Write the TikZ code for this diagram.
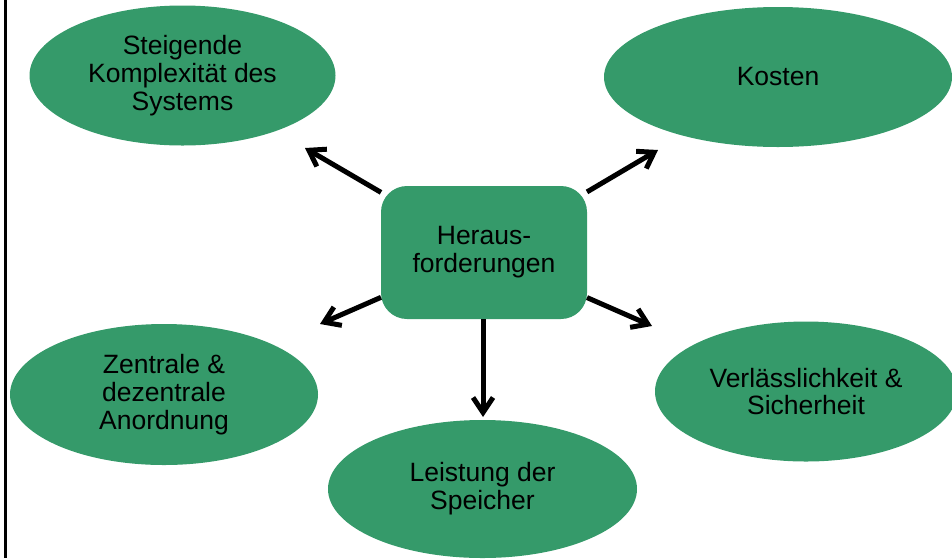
\documentclass[tikz,border=0pt]{standalone}
\usepackage{fontspec}
\setmainfont{Liberation Sans}
\usetikzlibrary{arrows.meta,shapes.geometric}
\definecolor{leaf}{RGB}{53,154,106}
\begin{document}
\begin{tikzpicture}[x=1pt,y=-1pt,
  label font/.style={font=\fontsize{26.5}{27.8}\selectfont},
  topic/.style={ellipse,fill=leaf,draw=none,inner sep=0pt,outer sep=0pt,
    align=center,label font},
  hubbox/.style={rectangle,rounded corners=26pt,fill=leaf,draw=none,
    minimum width=206pt,minimum height=133pt,inner sep=0pt,outer sep=0pt,
    align=center,label font},
  spoke/.style={line width=5pt,-{Straight Barb[length=15pt,width=20pt]}}]
\useasboundingbox (0,0) rectangle (952,558);
\clip (0,0) rectangle (952,558);

% frame line on the left
\draw[line width=3pt] (5,0) -- (5,558);

% surrounding topics
\node[topic,minimum width=306pt,minimum height=140pt] (cplx) at (182.5,75.5)
  {Steigende\\Komplexität des\\Systems};
\node[topic,minimum width=348pt,minimum height=140pt] (cost) at (778,77)
  {Kosten};
\node[topic,minimum width=308pt,minimum height=141pt] (arr) at (164,394.5)
  {Zentrale \&\\dezentrale\\Anordnung};
\node[topic,minimum width=309pt,minimum height=138pt] (perf) at (482.5,489)
  {Leistung der\\Speicher};
\node[topic,minimum width=302pt,minimum height=140pt] (safe) at (806,391.5)
  {Verlässlichkeit \&\\Sicherheit};

% central box
\node[hubbox] (hub) at (484,252.5) {Heraus-\\forderungen};

% arrow tips
\coordinate (t1) at (305,148);
\coordinate (t2) at (658,150);
\coordinate (t3) at (320,324);
\coordinate (t4) at (652,326);
\coordinate (t5) at (483,417);

\draw[spoke] (hub) -- (t1);
\draw[spoke] (hub) -- (t2);
\draw[spoke] (hub) -- (t3);
\draw[spoke] (hub) -- (t4);
\draw[spoke] (hub.south -| t5) -- (t5);
\end{tikzpicture}
\end{document}
